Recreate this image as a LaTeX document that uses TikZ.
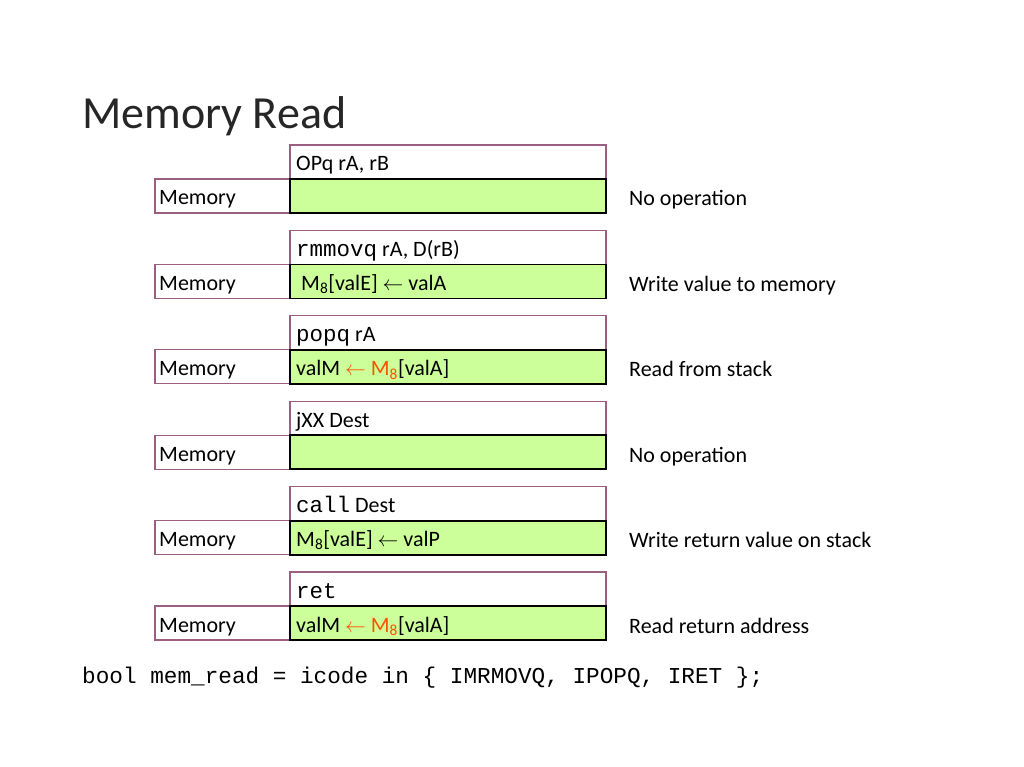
\documentclass[tikz,border=0pt]{standalone}
\usepackage{fontspec}
\setmainfont{Carlito}
\setmonofont{Liberation Mono}
\definecolor{mauve}{RGB}{155,95,130}
\definecolor{lgreen}{RGB}{204,255,153}
\definecolor{orng}{RGB}{255,80,0}
\tikzset{
  hdr/.style={draw=mauve, line width=1.2pt, fill=white},
  grn/.style={draw=black, line width=1.8pt, fill=lgreen},
  memb/.style={draw=mauve, line width=1.2pt, fill=white},
  txt/.style={anchor=base west, inner sep=0pt, font=\fontsize{22}{26}\selectfont},
  desc/.style={anchor=base west, inner sep=0pt, font=\fontsize{22}{26}\selectfont},
}
\newcommand{\arr}{$\leftarrow$}
\begin{document}
\begin{tikzpicture}[x=1pt,y=-1pt]
\useasboundingbox (0,0) rectangle (1024,767);
\node[anchor=base west, inner sep=0pt, font=\fontsize{46}{52}\selectfont, text=black!85] (title) at (82,129) {Memory Read};
\foreach \i/\hd/\gr/\ds in {
  0/{OPq rA, rB}/{}/{No operation},
  1/{{\fontsize{22.5}{26}\selectfont\texttt{rmmovq}} rA, D(rB)}/{\hspace{5pt}M\textsubscript{8}[valE] \arr{} valA}/{Write value to memory},
  2/{{\fontsize{22.5}{26}\selectfont\texttt{popq}} rA}/{valM \textcolor{orng}{\arr{} M\textsubscript{8}}[valA]}/{Read from stack},
  3/{jXX Dest}/{}/{No operation},
  4/{{\fontsize{22.5}{26}\selectfont\texttt{call}} Dest}/{M\textsubscript{8}[valE] \arr{} valP}/{Write return value on stack},
  5/{{\fontsize{22.5}{26}\selectfont\texttt{ret}}}/{valM \textcolor{orng}{\arr{} M\textsubscript{8}}[valA]}/{Read return address}} {
  \pgfmathsetmacro{\t}{145+85.4*\i}
  \draw[hdr] (290,\t) rectangle (606,\t+34);
  \draw[memb] (155,\t+34) rectangle (290,\t+68);
  \draw[grn] (290,\t+34) rectangle (606,\t+68);
  \node[txt] (h\i) at (296,\t+26) {\hd};
  \node[txt] (m\i) at (159,\t+60) {Memory};
  \node[txt] (g\i) at (296,\t+60) {\gr};
  \node[desc] (d\i) at (629,\t+61) {\ds};
}
\node[anchor=base west, inner sep=0pt, font=\ttfamily\fontsize{22.7}{26}\selectfont] (code) at (82,683) {bool mem\_read = icode in \{ IMRMOVQ, IPOPQ, IRET \};};
\end{tikzpicture}
\end{document}
